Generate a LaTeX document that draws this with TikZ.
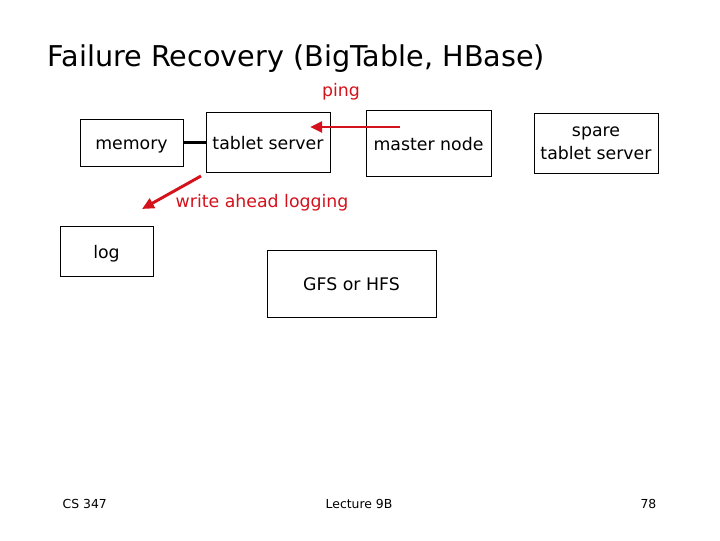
\documentclass[tikz,border=0pt]{standalone}
\usepackage{fontspec}
\setmainfont{DejaVu Sans}
\usetikzlibrary{arrows.meta}
\definecolor{pingred}{RGB}{212,18,28}

\begin{document}
\begin{tikzpicture}[x=0.75pt,y=-0.75pt,
    box/.style={draw,line width=0.75pt,inner sep=0pt,font=\fontsize{13}{17}\selectfont,align=center,text height=11pt,text depth=0.4pt},
    redarrow/.style={draw=pingred,line width=2.2pt,-{Triangle[length=9pt,width=8pt]}},
    redlabel/.style={text=pingred,font=\fontsize{13}{15}\selectfont},
    foot/.style={font=\fontsize{9.3}{11}\selectfont}]
  \useasboundingbox (0,0) rectangle (720,540);
  \node[anchor=west,font=\fontsize{21.5}{25}\selectfont] (title) at (43,59) {Failure Recovery (BigTable, HBase)};
  \node[box,minimum width=77.25pt,minimum height=35.25pt] (memory) at (131.5,142.5) {memory};
  \node[box,minimum width=93pt,minimum height=45pt] (tablet) at (268,142) {tablet server};
  \node[box,minimum width=93.75pt,minimum height=49.5pt] (master) at (428.5,143) {master node};
  \node[box,text height={},text depth={},minimum width=93pt,minimum height=45pt] (spare) at (596,143) {spare\\tablet server};
  \node[box,minimum width=69.75pt,minimum height=37.5pt] (log) at (106.5,251) {log};
  \node[box,minimum width=126.75pt,minimum height=50.25pt] (gfs) at (351.5,283.5) {GFS or HFS};
  \draw[line width=2pt] (memory.east) -- (memory.east -| tablet.west);
  \coordinate (pingstart) at (400,127);
  \coordinate (pingend) at (310,127);
  \draw[redarrow] (pingstart) -- (pingend);
  \node[redlabel] (ping) at (341,92) {ping};
  \coordinate (walstart) at (201,176);
  \coordinate (walend) at (142,209);
  \draw[redarrow] (walstart) -- (walend);
  \node[redlabel,anchor=west] (wal) at (171,203) {write ahead logging};
  \node[foot,anchor=west] (course) at (58,504) {CS 347};
  \node[foot] (lecture) at (359,504) {Lecture 9B};
  \node[foot,anchor=east] (page) at (661,504) {78};
\end{tikzpicture}
\end{document}
